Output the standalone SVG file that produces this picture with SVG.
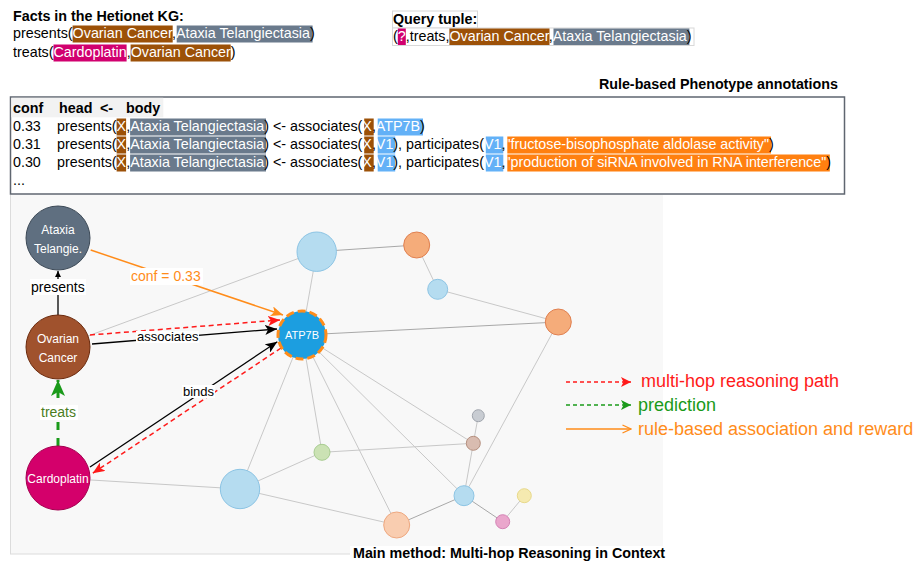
<svg xmlns="http://www.w3.org/2000/svg" width="918" height="561" viewBox="0 0 918 561">
<style>
text{font-family:"Liberation Sans",Arial,sans-serif;}
.t{font-size:14.3px;fill:#000;}
.b{font-weight:bold;}
.w{fill:#fff;}
.br{fill:#9c5108;}
.gy{fill:#6a7a8c;}
.mg{fill:#d1006f;}
.lb{fill:#63b1f7;}
.or{fill:#ff8010;}
.e{stroke:#c8c8c8;stroke-width:1;fill:none;}
.ed{stroke:#a8a8a8;stroke-width:1;fill:none;}
.nt{fill:#fff;font-size:12px;text-anchor:middle;}
.lbl{font-size:13px;fill:#000;}
.lg{font-size:18px;}
</style>
<defs>
<marker id="aBlack" viewBox="0 0 12 10" markerWidth="12" markerHeight="10" refX="12" refY="5" orient="auto" markerUnits="userSpaceOnUse"><path d="M0,0 L12,5 L0,10 L3,5 z" fill="#000"/></marker>
<marker id="aRed" viewBox="0 0 12 10" markerWidth="12" markerHeight="10" refX="12" refY="5" orient="auto" markerUnits="userSpaceOnUse"><path d="M0,0 L12,5 L0,10 L3,5 z" fill="#ff1a1a"/></marker>
<marker id="aOrange" viewBox="0 0 12 10" markerWidth="12" markerHeight="10" refX="12" refY="5" orient="auto" markerUnits="userSpaceOnUse"><path d="M0,0 L12,5 L0,10 L3,5 z" fill="#ff8c1a"/></marker>
<marker id="aGreen" viewBox="0 0 16 14" markerWidth="16" markerHeight="14" refX="16" refY="7" orient="auto" markerUnits="userSpaceOnUse"><path d="M0,0 L16,7 L0,14 L4,7 z" fill="#1a9a1a"/></marker>
<marker id="aSmall" viewBox="0 0 6 6" markerWidth="6" markerHeight="6" refX="6" refY="3" orient="auto" markerUnits="userSpaceOnUse"><path d="M0,0 L6,3 L0,6 z" fill="#000"/></marker>
<marker id="lRed" viewBox="0 0 10 10" markerWidth="10" markerHeight="10" refX="10" refY="5" orient="auto" markerUnits="userSpaceOnUse"><path d="M0,0 L10,5 L0,10 L2.5,5 z" fill="#ff1a1a"/></marker>
<marker id="lGreen" viewBox="0 0 10 10" markerWidth="10" markerHeight="10" refX="10" refY="5" orient="auto" markerUnits="userSpaceOnUse"><path d="M0,0 L10,5 L0,10 L2.5,5 z" fill="#1a9a1a"/></marker>
<marker id="lOrange" viewBox="0 0 10 10" markerWidth="10" markerHeight="10" refX="9.5" refY="5" orient="auto" markerUnits="userSpaceOnUse"><path d="M1,1 L9.5,5 L1,9" fill="none" stroke="#ff8c1a" stroke-width="1.3"/></marker>
</defs>

<rect width="918" height="561" fill="#fff"/>

<!-- Facts -->
<g id="facts">
<text class="t b" x="13" y="21">Facts in the Hetionet KG:</text>
<rect class="br" x="72.6" y="25.5" width="100.1" height="17"/>
<rect class="gy" x="176.7" y="25.5" width="135.9" height="17"/>
<text class="t" x="13" y="38">presents(<tspan class="w">Ovarian Cancer</tspan>,<tspan class="w">Ataxia Telangiectasia</tspan>)</text>
<rect class="mg" x="53.5" y="44.5" width="73.1" height="17"/>
<rect class="br" x="130.6" y="44.5" width="100.1" height="17"/>
<text class="t" x="13" y="57">treats(<tspan class="w">Cardoplatin</tspan>,<tspan class="w">Ovarian Cancer</tspan>)</text>
</g>

<!-- Query -->
<g id="query">
<rect x="392.5" y="11" width="85" height="17" fill="#fff" stroke="#d8d8d8"/>
<rect x="392.5" y="28" width="301.5" height="17.5" fill="#fff" stroke="#d8d8d8"/>
<text class="t b" x="393" y="24">Query tuple:</text>
<rect class="mg" x="397.8" y="28.5" width="8" height="16.5"/>
<rect class="br" x="449.4" y="28.5" width="100.1" height="16.5"/>
<rect class="gy" x="553.5" y="28.5" width="135.9" height="16.5"/>
<text class="t" x="393" y="41">(<tspan class="w">?</tspan>,treats,<tspan class="w">Ovarian Cancer</tspan>,<tspan class="w">Ataxia Telangiectasia</tspan>)</text>
</g>

<!-- Graph panel -->
<g id="panel">
<rect x="10" y="195" width="653" height="359" fill="#f8f8f8"/>
<line x1="10.5" y1="195" x2="10.5" y2="554" stroke="#dcdcdc"/>
<line x1="10" y1="554" x2="663" y2="554" stroke="#dcdcdc"/>
</g>

<!-- Rules table -->
<g id="rules">
<text class="t b" x="838" y="89" text-anchor="end">Rule-based Phenotype annotations</text>
<rect x="10.5" y="97" width="834" height="97" fill="#fff" stroke="#5f6670" stroke-width="1.5"/>
<rect x="11.3" y="97.8" width="152" height="19.5" fill="#f2f2f2"/>
<text class="t b" x="13" y="113">conf</text>
<text class="t b" x="59" y="113">head</text>
<text class="t b" x="100" y="113">&lt;-</text>
<text class="t b" x="126" y="113">body</text>

<rect class="br" x="116.6" y="118.5" width="9.5" height="17"/>
<rect class="gy" x="130.1" y="118.5" width="135.9" height="17"/>
<rect class="br" x="364.2" y="118.5" width="9.5" height="17"/>
<rect class="lb" x="377.7" y="118.5" width="45.3" height="17"/>
<text class="t" x="13" y="131">0.33</text>
<text class="t" x="57" y="131">presents(<tspan class="w">X</tspan>,<tspan class="w">Ataxia Telangiectasia</tspan>) &lt;- associates(<tspan class="w">X</tspan>,<tspan class="w">ATP7B</tspan>)</text>

<rect class="br" x="116.6" y="136.5" width="9.5" height="17"/>
<rect class="gy" x="130.1" y="136.5" width="135.9" height="17"/>
<rect class="br" x="364.2" y="136.5" width="9.5" height="17"/>
<rect class="lb" x="377.7" y="136.5" width="17.5" height="17"/>
<rect class="lb" x="485.8" y="136.5" width="17.5" height="17"/>
<rect class="or" x="507.3" y="136.5" width="263.7" height="17"/>
<text class="t" x="13" y="149">0.31</text>
<text class="t" x="57" y="149">presents(<tspan class="w">X</tspan>,<tspan class="w">Ataxia Telangiectasia</tspan>) &lt;- associates(<tspan class="w">X</tspan>,<tspan class="w">V1</tspan>), participates(<tspan class="w">V1</tspan>,<tspan class="w">"fructose-bisophosphate aldolase activity"</tspan>)</text>

<rect class="br" x="116.6" y="154.5" width="9.5" height="17"/>
<rect class="gy" x="130.1" y="154.5" width="135.9" height="17"/>
<rect class="br" x="364.2" y="154.5" width="9.5" height="17"/>
<rect class="lb" x="377.7" y="154.5" width="17.5" height="17"/>
<rect class="lb" x="485.8" y="154.5" width="17.5" height="17"/>
<rect class="or" x="507.3" y="154.5" width="322.5" height="17"/>
<text class="t" x="13" y="167">0.30</text>
<text class="t" x="57" y="167">presents(<tspan class="w">X</tspan>,<tspan class="w">Ataxia Telangiectasia</tspan>) &lt;- associates(<tspan class="w">X</tspan>,<tspan class="w">V1</tspan>), participates(<tspan class="w">V1</tspan>,<tspan class="w">"production of siRNA involved in RNA interference"</tspan>)</text>
<text class="t" x="13" y="185">...</text>
</g>

<!-- Connectors -->
<g id="connectors">
<line class="e" x1="58" y1="347" x2="316.7" y2="251.7"/>
<line class="e" x1="316.7" y1="251.7" x2="302" y2="335"/>
<line class="ed" x1="316.7" y1="251.7" x2="416.7" y2="245"/>
<line class="e" x1="416.7" y1="245" x2="437.7" y2="289.3"/>
<line class="e" x1="437.7" y1="289.3" x2="558.3" y2="322"/>
<line class="ed" x1="302" y1="335" x2="558.3" y2="322"/>
<line class="e" x1="558.3" y1="322" x2="464" y2="495.7"/>
<line class="e" x1="302" y1="335" x2="240" y2="489"/>
<line class="e" x1="302" y1="335" x2="322" y2="452.3"/>
<line class="e" x1="302" y1="335" x2="396.7" y2="525"/>
<line class="e" x1="302" y1="335" x2="464" y2="495.7"/>
<line class="e" x1="302" y1="335" x2="473.3" y2="443.3"/>
<line class="e" x1="240" y1="489" x2="322" y2="452.3"/>
<line class="e" x1="240" y1="489" x2="58" y2="478"/>
<line class="e" x1="240" y1="489" x2="396.7" y2="525"/>
<line class="e" x1="322" y1="452.3" x2="473.3" y2="443.3"/>
<line class="e" x1="473.3" y1="443.3" x2="478.3" y2="415.7"/>
<line class="e" x1="473.3" y1="443.3" x2="464" y2="495.7"/>
<line class="ed" x1="396.7" y1="525" x2="464" y2="495.7"/>
<line class="ed" x1="464" y1="495.7" x2="502.7" y2="521.7"/>
<line class="e" x1="502.7" y1="521.7" x2="524.3" y2="495.7"/>

<line x1="90.7" y1="250" x2="283" y2="315" stroke="#ff8c1a" stroke-width="1.5" marker-end="url(#aOrange)"/>
<line x1="90" y1="335" x2="280" y2="320" stroke="#ff1a1a" stroke-width="1.5" stroke-dasharray="5,3.5" marker-end="url(#aRed)"/>
<line x1="92" y1="344" x2="277" y2="329" stroke="#000" stroke-width="1.3" marker-end="url(#aBlack)"/>
<line x1="90" y1="467" x2="277.3" y2="341.7" stroke="#000" stroke-width="1.3" marker-end="url(#aBlack)"/>
<line x1="281" y1="348" x2="92.7" y2="473.3" stroke="#ff1a1a" stroke-width="1.5" stroke-dasharray="5,3.5" marker-end="url(#aRed)"/>
<line x1="58" y1="315" x2="58" y2="271" stroke="#000" stroke-width="1.3" marker-end="url(#aSmall)"/>
<line x1="58" y1="446" x2="58" y2="380" stroke="#1a9a1a" stroke-width="3" stroke-dasharray="8,8" marker-end="url(#aGreen)"/>

<rect x="130" y="268" width="73" height="17" fill="#fff"/>
<text x="131" y="281" font-size="14" fill="#ff8c1a">conf = 0.33</text>
<rect x="30" y="279" width="56" height="16" fill="#fff"/>
<text x="31" y="291.5" font-size="14">presents</text>
<rect x="136" y="331" width="63" height="12" fill="#fff"/>
<text class="lbl" x="137" y="340.5">associates</text>
<rect x="182" y="385" width="33" height="13" fill="#fff"/>
<text class="lbl" x="183" y="395.5">binds</text>
<rect x="40" y="405" width="38" height="15" fill="#fff"/>
<text x="41" y="416.5" font-size="14" fill="#4b7d1e">treats</text>
</g>

<!-- Nodes -->
<g id="n-ataxia"><circle cx="58" cy="238" r="32" fill="#5f6f80" stroke="#3d4a57"/><text class="nt" x="58" y="234">Ataxia</text><text class="nt" x="58" y="253">Telangie.</text></g>
<g id="n-ovarian"><circle cx="58" cy="347" r="32" fill="#a0522d" stroke="#6b2a0d"/><text class="nt" x="58" y="343">Ovarian</text><text class="nt" x="58" y="362">Cancer</text></g>
<g id="n-cardoplatin"><circle cx="58" cy="478" r="32" fill="#d4006b" stroke="#a3004f"/><text class="nt" x="58" y="483">Cardoplatin</text></g>
<g id="n-atp7b"><circle cx="302" cy="335" r="24" fill="#1c9ee0" stroke="#ff8c1a" stroke-width="3" stroke-dasharray="8,4"/><text class="nt" x="302" y="339" style="font-size:11px">ATP7B</text></g>
<g id="n-blue-top"><circle cx="316.7" cy="251.7" r="19.7" fill="#b5dcf0" stroke="#8cc4e4"/></g>
<g id="n-orange-top"><circle cx="416.7" cy="245" r="13" fill="#f5ac7a" stroke="#e08050"/></g>
<g id="n-blue-small"><circle cx="437.7" cy="289.3" r="10" fill="#b5dcf0" stroke="#8cc4e4"/></g>
<g id="n-orange-right"><circle cx="558.3" cy="322" r="13" fill="#f5ac7a" stroke="#e08050"/></g>
<g id="n-green"><circle cx="322" cy="452.3" r="8" fill="#cbe2b4" stroke="#a8cc90"/></g>
<g id="n-blue-bottom"><circle cx="240" cy="489" r="19.7" fill="#b5dcf0" stroke="#8cc4e4"/></g>
<g id="n-peach"><circle cx="396.7" cy="525" r="13" fill="#f9cdb0" stroke="#eea880"/></g>
<g id="n-blue-br"><circle cx="464" cy="495.7" r="10" fill="#b5dcf0" stroke="#8cc4e4"/></g>
<g id="n-pink"><circle cx="502.7" cy="521.7" r="7" fill="#eaa6cc" stroke="#d483b5"/></g>
<g id="n-yellow"><circle cx="524.3" cy="495.7" r="7" fill="#f5eab0" stroke="#e8d98a"/></g>
<g id="n-brown-small"><circle cx="473.3" cy="443.3" r="7" fill="#d9bcb0" stroke="#b59080"/></g>
<g id="n-gray-small"><circle cx="478.3" cy="415.7" r="6" fill="#c8ccd2" stroke="#a0a5ad"/></g>

<!-- Legend -->
<g id="legend">
<line x1="566" y1="382" x2="631" y2="382" stroke="#ff1a1a" stroke-width="1.5" stroke-dasharray="4,3" marker-end="url(#lRed)"/>
<text class="lg" x="641" y="387" fill="#ff1a1a">multi-hop reasoning path</text>
<line x1="566" y1="405" x2="631" y2="405" stroke="#1a9a1a" stroke-width="1.5" stroke-dasharray="4,3" marker-end="url(#lGreen)"/>
<text class="lg" x="638" y="411" fill="#1a9a1a">prediction</text>
<line x1="566" y1="429" x2="631" y2="429" stroke="#ff8c1a" stroke-width="1.5" marker-end="url(#lOrange)"/>
<text class="lg" x="638" y="435" fill="#ff8c1a">rule-based association and reward</text>
</g>

<g id="title">
<rect x="350" y="546" width="318" height="15" fill="#fff"/>
<text class="t b" x="353" y="557.5">Main method: Multi-hop Reasoning in Context</text>
</g>
</svg>
